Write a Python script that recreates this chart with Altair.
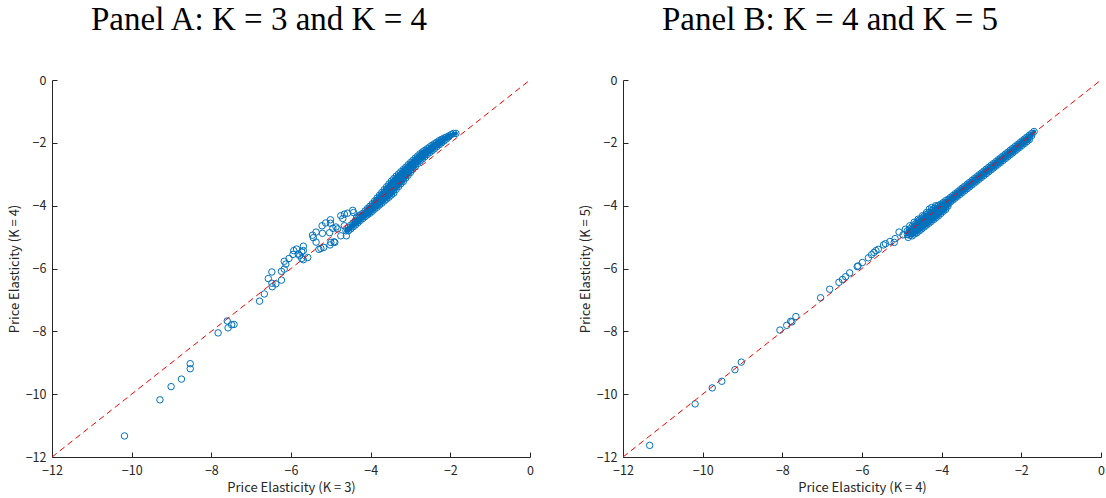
import altair as alt
import pandas as pd

# ---------------- data ----------------
axis_ticks = [-12, -10, -8, -6, -4, -2, 0]
diag = [-12, 0]

# Panel A: sparse points (K=3 on x, K=4 on y)
a_x = [-10.18, -9.29, -9.01, -8.75, -8.53, -8.53, -7.83, -7.60, -7.58, -7.49, -7.43,
       -6.79, -6.67, -6.57, -6.48, -6.48, -6.47, -6.38, -6.24, -6.24, -6.17, -6.17,
       -6.13, -6.05, -5.95, -5.93, -5.86, -5.82, -5.78, -5.73, -5.69, -5.69, -5.69,
       -5.73, -5.58, -5.46, -5.44, -5.37, -5.37, -5.30, -5.25, -5.18, -5.22, -5.21,
       -5.13, -5.01, -5.01, -5.03, -5.00, -5.02, -4.95, -4.92, -4.90, -4.87, -4.83,
       -4.75, -4.75, -4.70, -4.66, -4.66, -4.61, -4.58, -4.45, -4.43, -4.35, -4.27]
a_y = [-11.33, -10.18, -9.76, -9.52, -9.03, -9.19, -8.05, -7.67, -7.89, -7.79, -7.78,
       -7.04, -6.81, -6.32, -6.11, -6.47, -6.58, -6.49, -6.37, -6.09, -6.02, -5.77,
       -5.86, -5.68, -5.55, -5.43, -5.38, -5.54, -5.59, -5.47, -5.29, -5.43, -5.72,
       -5.68, -5.65, -4.94, -5.02, -4.84, -5.16, -5.39, -5.36, -5.33, -4.64, -4.88,
       -4.55, -4.45, -4.56, -4.86, -5.17, -5.25, -4.72, -5.15, -5.17, -4.68, -4.74,
       -4.96, -4.32, -4.41, -4.27, -4.64, -4.96, -4.24, -4.15, -4.22, -4.36, -4.30]

# Panel A: dense band, read column by column (x, then the y values seen there)
a_band_x = [-1.86, -1.92, -1.98, -2.04, -2.10, -2.16, -2.22, -2.28, -2.34, -2.40,
            -2.46, -2.52, -2.58, -2.64, -2.70, -2.76, -2.82, -2.88, -2.94, -3.00,
            -3.06, -3.12, -3.18, -3.24, -3.30, -3.36, -3.42, -3.48, -3.54, -3.60,
            -3.66, -3.72, -3.78, -3.84, -3.90, -3.96, -4.02, -4.08, -4.14, -4.20,
            -4.26, -4.32, -4.38, -4.44, -4.50, -4.56, -4.62]
a_band_y = [
    [-1.70], [-1.70], [-1.74], [-1.78, -1.81], [-1.82, -1.88], [-1.85, -1.94],
    [-1.89, -1.95, -2.00], [-1.93, -2.00, -2.06], [-1.98, -2.05, -2.12],
    [-2.03, -2.11, -2.19], [-2.08, -2.16, -2.25], [-2.13, -2.22, -2.31],
    [-2.19, -2.28, -2.37], [-2.24, -2.31, -2.38, -2.44], [-2.29, -2.36, -2.44, -2.51],
    [-2.35, -2.43, -2.50, -2.58], [-2.42, -2.50, -2.58, -2.66], [-2.49, -2.58, -2.67, -2.76],
    [-2.56, -2.65, -2.75, -2.84], [-2.63, -2.71, -2.79, -2.87, -2.94],
    [-2.70, -2.78, -2.86, -2.95, -3.03], [-2.78, -2.86, -2.95, -3.03, -3.12],
    [-2.85, -2.94, -3.04, -3.13, -3.23], [-2.92, -3.02, -3.11, -3.21, -3.30],
    [-2.99, -3.09, -3.19, -3.29, -3.39], [-3.06, -3.16, -3.27, -3.37, -3.48],
    [-3.14, -3.25, -3.37, -3.48, -3.60], [-3.22, -3.33, -3.44, -3.55, -3.66],
    [-3.31, -3.42, -3.52, -3.63, -3.73], [-3.40, -3.50, -3.60, -3.70, -3.79],
    [-3.49, -3.58, -3.67, -3.76, -3.85], [-3.58, -3.67, -3.75, -3.84, -3.92],
    [-3.67, -3.75, -3.83, -3.90, -3.98], [-3.76, -3.83, -3.91, -3.98, -4.05],
    [-3.85, -3.94, -4.02, -4.11], [-3.94, -4.02, -4.10, -4.18],
    [-4.02, -4.09, -4.17, -4.24], [-4.09, -4.16, -4.23, -4.29],
    [-4.17, -4.26, -4.35], [-4.25, -4.33, -4.41], [-4.32, -4.40, -4.47],
    [-4.40, -4.47, -4.54], [-4.47, -4.54, -4.61], [-4.55, -4.67], [-4.62, -4.74],
    [-4.70, -4.80], [-4.80],
]

# Panel B: sparse points (K=4 on x, K=5 on y)
b_x = [-11.33, -10.19, -9.76, -9.52, -9.19, -9.03, -8.06, -7.89, -7.79, -7.76, -7.66,
       -7.04, -6.81, -6.58, -6.49, -6.41, -6.31, -6.12, -6.10, -5.99, -5.84, -5.76,
       -5.70, -5.65, -5.59, -5.46, -5.41, -5.30, -5.19, -5.17, -5.07, -4.97, -4.91,
       -4.84, -4.80, -4.74, -4.69, -4.59, -4.48, -4.38, -4.31, -4.25, -4.15]
b_y = [-11.63, -10.31, -9.80, -9.59, -9.22, -8.98, -7.96, -7.81, -7.68, -7.70, -7.53,
       -6.93, -6.66, -6.44, -6.35, -6.26, -6.14, -5.94, -5.92, -5.81, -5.66, -5.56,
       -5.49, -5.43, -5.39, -5.25, -5.21, -5.14, -5.17, -5.05, -4.84, -4.93, -4.75,
       -5.01, -4.64, -4.85, -4.53, -4.43, -4.32, -4.22, -4.11, -4.06, -4.00]

# Panel B: dense band, read column by column
b_band_x = [-1.68, -1.74, -1.80, -1.86, -1.92, -1.98, -2.04, -2.10, -2.16, -2.22,
            -2.28, -2.34, -2.40, -2.46, -2.52, -2.58, -2.64, -2.70, -2.76, -2.82,
            -2.88, -2.94, -3.00, -3.06, -3.12, -3.18, -3.24, -3.30, -3.36, -3.42,
            -3.48, -3.54, -3.60, -3.66, -3.72, -3.78, -3.84, -3.90, -3.96, -4.02,
            -4.08, -4.14, -4.20, -4.26, -4.32, -4.38, -4.44, -4.50, -4.56, -4.62,
            -4.68, -4.74, -4.80, -4.86]
b_band_y = [
    [-1.64], [-1.70, -1.77], [-1.76, -1.83, -1.90], [-1.82, -1.89, -1.96],
    [-1.88, -1.95, -2.02], [-1.94, -2.01, -2.08], [-2.00, -2.07, -2.14],
    [-2.06, -2.13, -2.20], [-2.12, -2.19, -2.26], [-2.18, -2.25, -2.32],
    [-2.24, -2.31, -2.38], [-2.30, -2.37, -2.44], [-2.36, -2.43, -2.50],
    [-2.42, -2.49, -2.56], [-2.48, -2.55, -2.62], [-2.54, -2.61, -2.68],
    [-2.60, -2.67, -2.74], [-2.66, -2.73, -2.80], [-2.72, -2.79, -2.86],
    [-2.78, -2.85, -2.92], [-2.84, -2.91, -2.98], [-2.90, -2.97, -3.04],
    [-2.96, -3.03, -3.10], [-3.02, -3.09, -3.16], [-3.08, -3.15, -3.22],
    [-3.14, -3.21, -3.28], [-3.20, -3.27, -3.34], [-3.26, -3.33, -3.40],
    [-3.32, -3.39, -3.46], [-3.38, -3.45, -3.52], [-3.44, -3.51, -3.58],
    [-3.50, -3.57, -3.64], [-3.56, -3.63, -3.70], [-3.62, -3.69, -3.76],
    [-3.68, -3.75, -3.82], [-3.74, -3.81, -3.88], [-3.80, -3.87, -3.94, -4.01],
    [-3.84, -3.91, -3.98, -4.05, -4.12], [-3.90, -3.97, -4.04, -4.11, -4.18],
    [-3.95, -4.03, -4.10, -4.18, -4.25], [-4.00, -4.08, -4.16, -4.24, -4.32],
    [-4.04, -4.13, -4.22, -4.30, -4.38], [-4.10, -4.19, -4.28, -4.36, -4.44],
    [-4.16, -4.25, -4.34, -4.42, -4.50], [-4.22, -4.31, -4.40, -4.48, -4.56],
    [-4.28, -4.37, -4.46, -4.54, -4.62], [-4.34, -4.43, -4.52, -4.60, -4.68],
    [-4.40, -4.49, -4.58, -4.66, -4.74], [-4.46, -4.55, -4.64, -4.72, -4.80],
    [-4.52, -4.61, -4.70, -4.78, -4.86], [-4.60, -4.70, -4.80, -4.90],
    [-4.66, -4.76, -4.86, -4.96], [-4.74, -4.84, -4.94], [-4.80, -4.92],
]

panel_titles = ["Panel A: K = 3 and K = 4", "Panel B: K = 4 and K = 5"]
x_titles = ["Price Elasticity (K = 3)", "Price Elasticity (K = 4)"]
y_titles = ["Price Elasticity (K = 4)", "Price Elasticity (K = 5)"]

# ---------------- build ----------------
def frame(xs, ys, bx, by):
    rows = [{"x": a, "y": b, "band": 0} for a, b in zip(xs, ys)]
    for a, col in zip(bx, by):
        for b in col:
            rows.append({"x": a, "y": b, "band": 1})
    return pd.DataFrame(rows)

diag_df = pd.DataFrame({"d": diag})

AX = "#262626"
LF = "Noto Sans CJK JP"
BLUE = "#0072BD"


def panel(df, ptitle, xt, yt):
    sc = alt.Scale(domain=[-12, 0], nice=False, zero=False)
    common = dict(values=axis_ticks, ticks=False, tickSize=0, grid=False, domainColor=AX,
                  labelColor=AX, labelFont=LF, labelFontSize=12.5,
                  titleFont=LF, titleFontSize=13, titleFontWeight="normal",
                  titleColor=AX, labelFlush=False)
    xaxis = alt.Axis(labelPadding=7, titlePadding=5, **common)
    yaxis = alt.Axis(labelPadding=6, titlePadding=4, **common)
    xtick = alt.Axis(values=axis_ticks, orient="bottom", offset=-5, tickSize=5,
                     tickColor=AX, domain=False, labels=False, grid=False)
    ytick = alt.Axis(values=axis_ticks, orient="left", offset=-5, tickSize=5,
                     tickColor=AX, domain=False, labels=False, grid=False)

    base = alt.Chart(df)
    rings = base.mark_point(shape="circle", filled=False, size=42,
                            strokeWidth=1, color=BLUE, opacity=1).encode(
        x=alt.X("x:Q", scale=sc, axis=xaxis, title=xt),
        y=alt.Y("y:Q", scale=sc, axis=yaxis, title=yt),
    )
    # where the markers pile up, their overlapping rings read as solid blue
    core = base.transform_filter("datum.band == 1").mark_point(
        shape="circle", filled=True, size=16, color=BLUE, opacity=1).encode(
        x=alt.X("x:Q", scale=sc, axis=None), y=alt.Y("y:Q", scale=sc, axis=None))
    line = alt.Chart(diag_df).mark_line(color="#FF0000", strokeDash=[6, 4],
                                        strokeWidth=1).encode(
        x=alt.X("d:Q", scale=sc, axis=xtick, title=None),
        y=alt.Y("d:Q", scale=sc, axis=ytick, title=None),
    )
    return alt.layer(rings, core, line).resolve_axis(x="independent", y="independent").properties(
        width=478, height=377,
        title=alt.TitleParams(ptitle, font="Liberation Serif", fontSize=33,
                              fontWeight="normal", color="black", anchor="middle",
                              offset=37, dx=-32),
    )


chart_a = panel(frame(a_x, a_y, a_band_x, a_band_y), panel_titles[0], x_titles[0], y_titles[0])
chart_b = panel(frame(b_x, b_y, b_band_x, b_band_y), panel_titles[1], x_titles[1], y_titles[1])

chart = alt.hconcat(chart_a, chart_b, spacing=45).properties(
    padding={"left": 8, "top": 4, "right": 0, "bottom": 0}
).configure(background="white").configure_view(stroke=None)

chart.save("out.html", embed_options={"renderer": "svg", "actions": False})
